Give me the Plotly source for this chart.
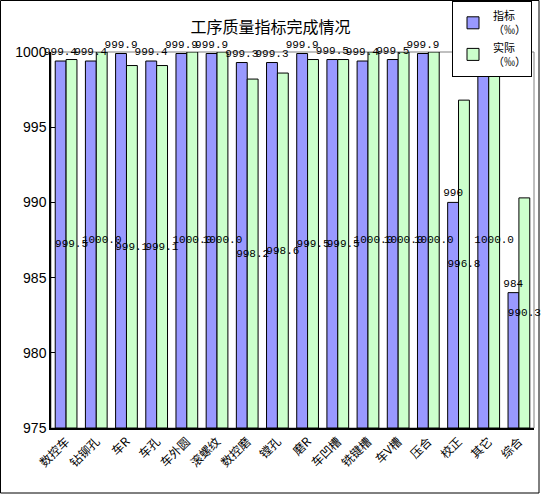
import plotly.graph_objects as go

categories = ['数控车', '钻铆孔', '车R', '车孔', '车外圆', '滚螺纹', '数控磨', '镗孔',
              '磨R', '车凹槽', '铣键槽', '车V槽', '压合', '校正', '其它', '综合']
target = [999.4, 999.4, 999.9, 999.4, 999.9, 999.9, 999.3, 999.3,
          999.9, 999.5, 999.4, 999.5, 999.9, 990, 999.3, 984]
actual = [999.5, 1000.0, 999.1, 999.1, 1000.0, 1000.0, 998.2, 998.6,
          999.5, 999.5, 1000.0, 1000.0, 1000.0, 996.8, 1000.0, 990.3]

W, H = 541, 495
L, R, T, B = 51, 7, 52, 67
pw, ph = W - L - R, H - T - B
Y0, Y1 = 975, 1000

label_font = dict(family='Liberation Mono', size=11, color='black')

fig = go.Figure()
# coloured bars, drawn up from the axis floor
fig.add_trace(go.Bar(
    x=categories, y=[v - Y0 for v in target], base=Y0, name='指标<br>（‰）',
    marker=dict(color='#9999FF', line=dict(color='black', width=1)),
))
fig.add_trace(go.Bar(
    x=categories, y=[v - Y0 for v in actual], base=Y0, name='实际<br>（‰）',
    marker=dict(color='#CCFFCC', line=dict(color='black', width=1)),
))
# label-only copies on an overlaid axis, so the texts sit above every bar
fig.add_trace(go.Bar(
    x=categories, y=[v - Y0 for v in target], base=Y0,
    xaxis='x2', yaxis='y2', showlegend=False,
    marker=dict(color='rgba(0,0,0,0)', line=dict(width=0)),
    text=[f'{v:g}' for v in target], textposition='outside',
    textfont=label_font, outsidetextfont=label_font,
    constraintext='none', cliponaxis=False, textangle=0,
))
fig.add_trace(go.Bar(
    x=categories, y=[v - Y0 for v in actual], base=Y0,
    xaxis='x2', yaxis='y2', showlegend=False,
    marker=dict(color='rgba(0,0,0,0)', line=dict(width=0)),
    text=[f'{v:.1f}' for v in actual], textposition='inside',
    insidetextanchor='middle', insidetextfont=label_font, textfont=label_font,
    constraintext='none', cliponaxis=False, textangle=0,
))

# grey plot-area border, black outer frame
fig.add_shape(type='rect', xref='paper', yref='paper', x0=0, x1=1, y0=0, y1=1,
              line=dict(color='#808080', width=1), layer='below')
fig.add_shape(type='rect', xref='paper', yref='paper',
              x0=(0.5 - L) / pw, x1=(W - 2 - L) / pw,
              y0=-(B - 2) / ph, y1=(ph + T - 0.5) / ph,
              line=dict(color='black', width=1))

fig.update_layout(
    width=W, height=H,
    margin=dict(l=L, r=R, t=T, b=B, autoexpand=False),
    paper_bgcolor='white', plot_bgcolor='white',
    barmode='group', bargap=0.28, bargroupgap=0,
    hovermode=False,
    uniformtext=dict(minsize=11, mode='show'),
    title=dict(text='工序质量指标完成情况', x=0.5, xanchor='center',
               y=1 - 27 / H, yanchor='middle',
               font=dict(family='Noto Sans CJK SC', size=16, color='black')),
    font=dict(family='Noto Sans CJK SC', color='black'),
    legend=dict(x=(532 - L) / pw, y=(ph + T - 1) / ph, xanchor='right', yanchor='top',
                bgcolor='white', bordercolor='black', borderwidth=1,
                font=dict(family='Noto Sans CJK SC', size=11, color='black'),
                itemwidth=30, tracegroupgap=0),
    showlegend=True,
    xaxis2=dict(overlaying='x', matches='x', visible=False),
    yaxis2=dict(overlaying='y', matches='y', visible=False, range=[Y0, Y1]),
)
fig.update_layout(
    xaxis=dict(
        tickangle=-45, showline=True, linecolor='black', linewidth=1.5,
        tickfont=dict(family='Noto Sans CJK SC', size=12, color='black'),
        ticks='', showgrid=False, automargin=False,
    ),
    yaxis=dict(
        range=[Y0, Y1], dtick=5, showline=True, linecolor='black', linewidth=1.5,
        ticks='inside', ticklen=4, tickcolor='black', showgrid=False, zeroline=False,
        tickfont=dict(family='Liberation Sans', size=14, color='black'), automargin=False,
    ),
)

fig.write_html('out.html', config={'displayModeBar': False},
               post_script="document.body.style.margin='0';")
